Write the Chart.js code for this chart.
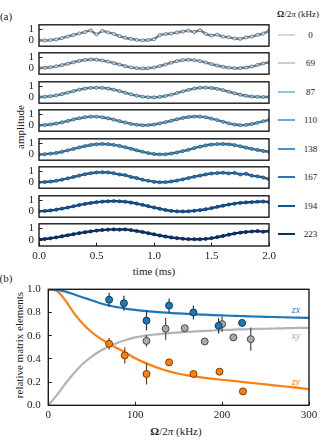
<!DOCTYPE html>
<html>
<head>
<meta charset="utf-8">
<script src="https://cdn.jsdelivr.net/npm/chart.js@4.4.1/dist/chart.umd.min.js"></script>
<style>
html, body { margin: 0; padding: 0; background: #fff; }
#fig { position: relative; width: 330px; height: 447px; overflow: hidden; font-family: "Liberation Serif", serif; color: #222; }
#fig canvas { position: absolute; z-index: 2; }
.t { position: absolute; white-space: nowrap; line-height: 1; z-index: 1; }
.swatch { position: absolute; height: 2px; z-index: 1; }
</style>
</head>
<body>
<div id="fig"></div>
<script>
// ---- panel (a): amplitude vs time, one row per drive strength ----
const timeMs = [0.00,0.05,0.10,0.15,0.20,0.25,0.30,0.35,0.40,0.45,0.50,0.55,0.60,0.65,0.70,0.75,0.80,0.85,0.90,0.95,
  1.00,1.05,1.10,1.15,1.20,1.25,1.30,1.35,1.40,1.45,1.50,1.55,1.60,1.65,1.70,1.75,1.80,1.85,1.90,1.95,2.00];
const amp0   = [0.02,0.01,0.04,0.10,0.22,0.36,0.50,0.63,0.75,0.90,0.55,0.86,0.72,0.60,0.40,0.25,0.15,0.06,0.02,0.05,
  0.12,0.48,0.58,0.62,0.72,0.80,0.88,0.76,0.92,0.60,0.45,0.52,0.35,0.30,0.18,0.15,0.28,0.35,0.50,0.62,0.88];
const amp69  = [0.05,0.07,0.12,0.20,0.31,0.43,0.56,0.67,0.76,0.80,0.78,0.72,0.62,0.49,0.36,0.22,0.11,0.04,0.01,0.03,
  0.10,0.22,0.36,0.52,0.66,0.75,0.78,0.75,0.66,0.54,0.40,0.27,0.16,0.08,0.04,0.04,0.09,0.18,0.32,0.45,0.55];
const amp87  = [0.05,0.07,0.12,0.20,0.31,0.44,0.57,0.70,0.80,0.86,0.88,0.86,0.80,0.70,0.57,0.43,0.29,0.17,0.08,0.03,
  0.02,0.06,0.14,0.26,0.40,0.55,0.69,0.80,0.87,0.88,0.85,0.77,0.66,0.52,0.38,0.25,0.16,0.10,0.07,0.05,0.05];
const amp110 = [0.03,0.05,0.10,0.18,0.29,0.41,0.54,0.65,0.74,0.79,0.79,0.74,0.65,0.53,0.40,0.27,0.15,0.07,0.03,0.04,
  0.09,0.18,0.30,0.43,0.56,0.68,0.76,0.80,0.79,0.74,0.62,0.48,0.34,0.20,0.09,0.04,0.06,0.14,0.25,0.38,0.50];
const amp138 = [0.01,0.03,0.08,0.15,0.25,0.37,0.50,0.63,0.75,0.85,0.91,0.94,0.92,0.86,0.77,0.65,0.52,0.38,0.25,0.13,
  0.05,0.02,0.03,0.09,0.18,0.30,0.43,0.57,0.70,0.81,0.89,0.93,0.94,0.91,0.84,0.74,0.62,0.51,0.41,0.32,0.25];
const amp167 = [0.03,0.05,0.09,0.16,0.26,0.37,0.50,0.62,0.74,0.83,0.90,0.92,0.90,0.83,0.72,0.66,0.50,0.40,0.26,0.16,
  0.07,0.03,0.04,0.10,0.18,0.28,0.40,0.52,0.62,0.72,0.80,0.84,0.87,0.82,0.86,0.72,0.78,0.62,0.55,0.45,0.30];
const amp194 = [0.03,0.05,0.10,0.17,0.26,0.36,0.47,0.58,0.68,0.76,0.83,0.88,0.91,0.93,0.91,0.87,0.80,0.71,0.60,0.48,
  0.36,0.25,0.14,0.06,0.02,0.01,0.03,0.07,0.13,0.21,0.31,0.42,0.52,0.62,0.70,0.77,0.81,0.84,0.87,0.89,0.85];
const amp223 = [0.08,0.10,0.16,0.24,0.33,0.42,0.51,0.60,0.68,0.75,0.82,0.87,0.90,0.92,0.90,0.92,0.86,0.78,0.70,0.60,
  0.50,0.40,0.31,0.23,0.17,0.12,0.09,0.08,0.08,0.11,0.17,0.26,0.36,0.47,0.57,0.64,0.70,0.74,0.78,0.72,0.78];
const ampSeries = [amp0, amp69, amp87, amp110, amp138, amp167, amp194, amp223];
const omegaLabels = ['0', '69', '87', '110', '138', '167', '194', '223'];
const ampTicks = [0, 1];
const timeTicks = [0, 0.5, 1.0, 1.5, 2.0];

// ---- panel (b): relative matrix elements vs drive strength ----
const omegaCurve = [0,10,20,30,40,50,60,70,80,90,100,110,120,130,140,150,160,170,180,190,200,210,220,230,240,250,260,270,280,290,300];
const zxCurve = [1.0,0.995,0.98,0.955,0.93,0.905,0.88,0.86,0.845,0.832,0.822,0.814,0.807,0.801,0.796,0.792,0.788,0.784,0.781,0.778,
  0.775,0.772,0.77,0.767,0.765,0.763,0.761,0.759,0.757,0.755,0.753];
const xyCurve = [0.0,0.09,0.19,0.28,0.36,0.42,0.47,0.51,0.54,0.565,0.585,0.598,0.608,0.616,0.622,0.628,0.633,0.637,0.641,0.645,
  0.648,0.651,0.654,0.656,0.658,0.66,0.662,0.664,0.666,0.667,0.668];
const zyCurve = [1.0,0.985,0.9,0.79,0.70,0.63,0.575,0.53,0.49,0.45,0.405,0.37,0.34,0.313,0.29,0.272,0.258,0.247,0.237,0.228,
  0.22,0.212,0.204,0.196,0.188,0.18,0.172,0.164,0.156,0.148,0.14];
const zxOmega = [70, 87, 113, 139, 167, 196, 223];
const zxValue = [0.91, 0.88, 0.73, 0.86, 0.80, 0.685, 0.71];
const zxError = [0.06, 0.065, 0.085, 0.06, 0.06, 0.065, 0.02];
const xyOmega = [113, 135, 157, 180, 200, 213, 233];
const xyValue = [0.555, 0.66, 0.665, 0.55, 0.70, 0.585, 0.57];
const xyError = [0.05, 0.095, 0.02, 0.02, 0.065, 0.02, 0.1];
const zyOmega = [70, 88, 113, 139, 167, 197, 224];
const zyValue = [0.53, 0.43, 0.27, 0.37, 0.27, 0.29, 0.12];
const zyError = [0.05, 0.07, 0.09, 0.02, 0.02, 0.02, 0.02];
const omegaTicks = [0, 100, 200, 300];
const matrixTicks = [0, 0.2, 0.4, 0.6, 0.8, 1.0];

// styles
const edgeColors = ['#6b7885','#647687','#567487','#456f89','#346688','#235883','#134479','#0b2b5c'];
const legendColors = ['#c6dbef','#b7d3eb','#94c4df','#6aaed6','#4693c7','#2874b4','#0f559e','#08306b'];
const TICK_FONT = "11px 'Liberation Serif', serif";
Chart.defaults.font.family = "'Liberation Serif', serif";
Chart.defaults.color = '#222';

const fig = document.getElementById('fig');

function makeCanvas(left, top, w, h) {
  const c = document.createElement('canvas');
  c.width = w; c.height = h;
  c.style.left = left + 'px'; c.style.top = top + 'px';
  c.style.width = w + 'px'; c.style.height = h + 'px';
  fig.appendChild(c);
  return c;
}

function addText(html, cx, cy, size, opts) {
  opts = opts || {};
  const d = document.createElement('div');
  d.className = 't';
  d.innerHTML = html;
  d.style.left = cx + 'px';
  d.style.top = cy + 'px';
  d.style.fontSize = size + 'px';
  d.style.transform = 'translate(-50%,-50%)' + (opts.rotate ? ' rotate(-90deg)' : '');
  if (opts.color) d.style.color = opts.color;
  if (opts.italic) d.style.fontStyle = 'italic';
  fig.appendChild(d);
}

const framePlugin = {
  id: 'frame',
  afterDraw(chart) {
    const { ctx, chartArea: a } = chart;
    ctx.save();
    ctx.strokeStyle = '#1a1a1a';
    ctx.lineWidth = 1.4;
    ctx.strokeRect(a.left, a.top, a.right - a.left, a.bottom - a.top);
    ctx.restore();
  }
};

const errorBarPlugin = {
  id: 'errorBars',
  beforeDatasetDraw(chart, args) {
    const ds = chart.data.datasets[args.index];
    if (!ds.errors) return;
    const { ctx, scales: { x, y } } = chart;
    ctx.save();
    ctx.strokeStyle = ds.pointBorderColor;
    ctx.lineWidth = 1.2;
    ds.data.forEach((p, i) => {
      const px = x.getPixelForValue(p.x);
      ctx.beginPath();
      ctx.moveTo(px, y.getPixelForValue(p.y - ds.errors[i]));
      ctx.lineTo(px, y.getPixelForValue(p.y + ds.errors[i]));
      ctx.stroke();
    });
    ctx.restore();
  }
};

// tick labels of panel (b), placed with the chart's own scales
const matrixLabelPlugin = {
  id: 'matrixLabels',
  afterDraw(chart) {
    const { ctx, chartArea: a, scales: { x, y } } = chart;
    ctx.save();
    ctx.fillStyle = '#222';
    ctx.font = TICK_FONT;
    ctx.textAlign = 'right';
    ctx.textBaseline = 'middle';
    matrixTicks.forEach(v => ctx.fillText(v.toFixed(1), a.left - 7.5, y.getPixelForValue(v)));
    ctx.textAlign = 'center';
    ctx.textBaseline = 'top';
    omegaTicks.forEach(v => ctx.fillText(String(v), x.getPixelForValue(v), a.bottom + 4));
    ctx.restore();
  }
};

const inwardGrid = () => ({ drawOnChartArea: false, drawTicks: true, tickLength: -3.5, color: '#222', lineWidth: 1 });

// ---- text labels (kept beneath the canvases) ----
addText('(a)', 6, 16, 11);
addText('amplitude', 20, 127, 11, { rotate: true });
addText('time (ms)', 154, 271, 11);
addText('<b>Ω</b>/2<i>π</i> (kHz)', 298, 13.5, 9);
addText('(b)', 6, 277.5, 11);
addText('relative matrix elements', 19, 345, 11, { rotate: true });
addText('<b>Ω</b>/2<i>π</i> (kHz)', 176, 431, 11);
addText('zx', 296, 309.5, 10, { italic: true, color: '#2a7db8' });
addText('xy', 296, 335.5, 10, { italic: true, color: '#a8a8a8' });
addText('zy', 296, 381.5, 10, { italic: true, color: '#ff7f0e' });

// ---- panel (b) ----
const pb = makeCanvas(0, 280, 330, 167);
const pts = (xs, ys) => xs.map((x, k) => ({ x: x, y: ys[k] }));
new Chart(pb, {
  type: 'scatter',
  data: {
    datasets: [
      { data: pts(zxOmega, zxValue), errors: zxError, order: 0, pointRadius: 3.5, pointBorderWidth: 1,
        pointBackgroundColor: '#1f77b4', pointBorderColor: '#0c3a60' },
      { data: pts(xyOmega, xyValue), errors: xyError, order: 0, pointRadius: 3.5, pointBorderWidth: 1,
        pointBackgroundColor: '#a9a9a9', pointBorderColor: '#4a4a4a' },
      { data: pts(zyOmega, zyValue), errors: zyError, order: 0, pointRadius: 3.5, pointBorderWidth: 1,
        pointBackgroundColor: '#ff7f0e', pointBorderColor: '#7a3b00' },
      { data: pts(omegaCurve, zxCurve), order: 1, showLine: true, pointRadius: 0, borderWidth: 2.2,
        borderColor: '#1f77b4', cubicInterpolationMode: 'monotone' },
      { data: pts(omegaCurve, xyCurve), order: 1, showLine: true, pointRadius: 0, borderWidth: 2.2,
        borderColor: '#b3b3b3', cubicInterpolationMode: 'monotone' },
      { data: pts(omegaCurve, zyCurve), order: 1, showLine: true, pointRadius: 0, borderWidth: 2.2,
        borderColor: '#ff7f0e', cubicInterpolationMode: 'monotone' }
    ]
  },
  options: {
    responsive: false,
    animation: false,
    events: [],
    layout: { padding: { left: 0, top: 9.3, right: 21, bottom: 0 } },
    plugins: { legend: { display: false }, tooltip: { enabled: false } },
    scales: {
      x: {
        type: 'linear', min: 0, max: 300,
        grid: inwardGrid(),
        border: { display: false },
        ticks: { display: false, autoSkip: false },
        afterBuildTicks: s => { s.ticks = omegaTicks.map(v => ({ value: v })); },
        afterFit: s => { s.height = 41.7; s.paddingLeft = 0; s.paddingRight = 0; }
      },
      y: {
        type: 'linear', min: 0, max: 1,
        grid: inwardGrid(),
        border: { display: false },
        ticks: { display: false, autoSkip: false },
        afterBuildTicks: s => { s.ticks = matrixTicks.map(v => ({ value: v })); },
        afterFit: s => { s.width = 48.3; s.paddingTop = 0; s.paddingBottom = 0; }
      }
    }
  },
  plugins: [framePlugin, errorBarPlugin, matrixLabelPlugin]
});

// ---- panel (a) ----
const boxLeft = 39, boxRight = 269, boxTop0 = 23, boxStep = 28.5, boxHeight = 23.5;
const canvasW = 276;

ampSeries.forEach((series, i) => {
  const last = i === ampSeries.length - 1;
  const top = boxTop0 + i * boxStep;
  const cTop = Math.floor(top) - 3;
  const cH = last ? 48 : 31;
  const padTop = top - cTop;
  const below = cH - padTop - boxHeight;
  const canvas = makeCanvas(0, cTop, canvasW, cH);
  new Chart(canvas, {
    type: 'scatter',
    data: {
      datasets: [{
        data: timeMs.map((t, k) => ({ x: t, y: series[k] })),
        showLine: true,
        borderColor: edgeColors[i],
        borderWidth: 2.4,
        tension: 0.25,
        pointRadius: 1.6,
        pointBorderWidth: 0.8,
        pointBackgroundColor: legendColors[i],
        pointBorderColor: edgeColors[i]
      }]
    },
    options: {
      responsive: false,
      animation: false,
      events: [],
      layout: { padding: { left: 0, top: padTop, right: canvasW - boxRight, bottom: last ? 0 : below } },
      plugins: { legend: { display: false }, tooltip: { enabled: false } },
      scales: {
        x: {
          type: 'linear', min: 0, max: 2,
          display: last,
          grid: inwardGrid(),
          border: { display: false },
          ticks: { font: { size: 11 }, padding: 7, maxRotation: 0, autoSkip: false, callback: v => v.toFixed(1) },
          afterBuildTicks: s => { s.ticks = timeTicks.map(v => ({ value: v })); },
          afterFit: s => { s.height = last ? below : 0; s.paddingLeft = 0; s.paddingRight = 0; }
        },
        y: {
          type: 'linear', min: -0.5, max: 1.4,
          grid: inwardGrid(),
          border: { display: false },
          ticks: { font: { size: 11 }, padding: 8.5, autoSkip: false, callback: v => String(v) },
          afterBuildTicks: s => { s.ticks = ampTicks.map(v => ({ value: v })); },
          afterFit: s => { s.width = boxLeft; s.paddingTop = 0; s.paddingBottom = 0; }
        }
      }
    },
    plugins: [framePlugin]
  });

  // legend row
  const cy = top + boxHeight / 2;
  const sw = document.createElement('div');
  sw.className = 'swatch';
  sw.style.left = '278px';
  sw.style.width = '17px';
  sw.style.top = (cy - 1) + 'px';
  sw.style.background = legendColors[i];
  fig.appendChild(sw);
  addText(omegaLabels[i], 310.5, cy, 9);
});
</script>
</body>
</html>
